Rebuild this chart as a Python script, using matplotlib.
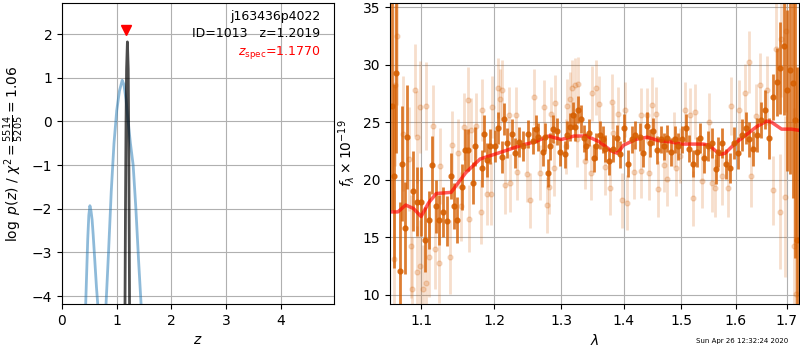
import numpy as np
import matplotlib
matplotlib.use("Agg")
import matplotlib.pyplot as plt
from matplotlib.ticker import FixedLocator, NullLocator, FormatStrFormatter

# p(z) curves
z_coarse = [0.38, 0.43, 0.45, 0.47, 0.49, 0.51, 0.53, 0.55, 0.57, 0.60, 0.63, 0.66, 0.72,
            0.80, 0.85, 0.90, 0.95, 1.00, 1.05, 1.10, 1.13, 1.17, 1.20, 1.25, 1.30, 1.35,
            1.40, 1.45, 1.50]
lnp_coarse = [-6.0, -4.3, -3.5, -2.7, -2.15, -1.93, -2.05, -2.25, -2.6, -3.2, -3.8, -4.3, -5.5,
              -4.3, -3.0, -1.6, -0.5, 0.25, 0.7, 0.94, 0.85, 0.5, 0.1, -0.5, -1.0, -2.0,
              -3.2, -4.3, -5.5]
z_fine = [1.14, 1.15, 1.16, 1.17, 1.18, 1.195, 1.21, 1.22, 1.23, 1.235, 1.245]
lnp_fine = [-5.5, -4.5, -2.0, 0.0, 1.2, 1.82, 1.2, -0.5, -3.0, -4.5, -5.5]
z_best = 1.2019
z_spec = 1.1770

# binned spectrum (dark)
wave_bin = [1.0623, 1.0648, 1.0677, 1.0721, 1.0750, 1.0785, 1.0818, 1.0890, 1.0948, 1.1000,
            1.1045, 1.1101, 1.1145, 1.1191, 1.1243, 1.1287, 1.1344, 1.1400, 1.1445, 1.1480,
            1.1544, 1.1594, 1.1639, 1.1703, 1.1727, 1.1821, 1.1853, 1.1900, 1.1948, 1.2010,
            1.2057, 1.2107, 1.2144, 1.2187, 1.2252, 1.2300, 1.2363, 1.2422, 1.2496, 1.2562,
            1.2611, 1.2646, 1.2712, 1.2747, 1.2797, 1.2823, 1.2874, 1.2930, 1.2980, 1.3050,
            1.3086, 1.3137, 1.3175, 1.3216, 1.3259, 1.3311, 1.3349, 1.3390, 1.3439, 1.3509,
            1.3546, 1.3616, 1.3655, 1.3697, 1.3752, 1.3824, 1.3890, 1.3945, 1.4000, 1.4072,
            1.4140, 1.4195, 1.4275, 1.4332, 1.4389, 1.4446, 1.4503, 1.4573, 1.4631, 1.4690,
            1.4748, 1.4818, 1.4879, 1.4936, 1.5014, 1.5074, 1.5134, 1.5212, 1.5273, 1.5334,
            1.5407, 1.5480, 1.5548, 1.5623, 1.5660, 1.5740, 1.5816, 1.5892, 1.5973, 1.6039,
            1.6121, 1.6198, 1.6262, 1.6340, 1.6405, 1.6491, 1.6575, 1.6654, 1.6733, 1.6808,
            1.6875, 1.6942, 1.7008, 1.7070, 1.7125, 1.7178, 1.7210]
flux_bin = [26.4, 20.3, 29.3, 12.1, 21.4, 15.8, 23.7, 19.0, 18.1, 18.1,
            14.8, 16.5, 21.3, 17.7, 16.5, 17.2, 16.4, 20.3, 17.7, 16.5,
            19.4, 22.6, 22.6, 19.7, 22.9, 21.0, 24.0, 21.7, 22.9, 22.9,
            24.5, 22.0, 25.3, 23.2, 24.0, 22.3, 23.3, 22.9, 24.0, 23.4,
            24.4, 23.7, 22.4, 23.7, 20.6, 22.9, 24.4, 24.2, 22.4, 22.2,
            23.9, 24.6, 25.6, 24.6, 26.1, 25.3, 23.6, 22.9, 24.1, 21.9,
            22.9, 23.9, 23.5, 22.7, 21.6, 22.7, 23.6, 22.2, 24.5, 21.4,
            23.5, 23.9, 23.7, 22.3, 24.7, 23.2, 24.2, 22.6, 23.5, 22.9,
            23.6, 22.4, 23.5, 22.9, 23.5, 24.5, 22.7, 21.4, 22.4, 23.6,
            21.9, 22.9, 23.2, 20.9, 22.4, 23.2, 21.4, 21.0, 23.2, 22.3,
            23.9, 24.5, 23.5, 22.7, 23.9, 25.2, 26.1, 23.6, 27.2, 28.5,
            29.7, 31.6, 27.8, 29.5, 28.4, 25.2, 14.8]
err_bin = [9.0, 8.0, 7.0, 6.0, 5.0, 4.0, 4.5, 3.5, 3.0, 3.0,
           2.8, 2.5, 2.5, 2.3, 2.2, 2.2, 2.2, 2.0, 2.0, 2.0,
           2.0, 1.8, 1.8, 1.8, 1.7, 1.6, 1.6, 1.5, 1.5, 1.4,
           1.4, 1.4, 1.4, 1.3, 1.3, 1.3, 1.3, 1.3, 1.2, 1.2,
           1.2, 1.2, 1.2, 1.2, 1.2, 1.2, 1.2, 1.2, 1.2, 1.2,
           1.2, 1.2, 1.2, 1.2, 1.2, 1.2, 1.2, 1.2, 1.2, 1.2,
           1.2, 1.2, 1.2, 1.2, 1.2, 1.2, 1.2, 1.2, 1.2, 1.2,
           1.2, 1.2, 1.2, 1.2, 1.2, 1.2, 1.2, 1.2, 1.2, 1.2,
           1.2, 1.2, 1.2, 1.2, 1.2, 1.2, 1.2, 1.2, 1.3, 1.3,
           1.3, 1.3, 1.3, 1.3, 1.3, 1.3, 1.3, 1.3, 1.4, 1.4,
           1.4, 1.4, 1.5, 1.5, 1.5, 1.6, 1.7, 1.8, 2.0, 3.0,
           4.0, 6.0, 7.0, 9.0, 10.0, 12.0, 15.0]

# unbinned spectrum (light)
wave_raw = [1.0650, 1.0660, 1.0690, 1.0760, 1.0840, 1.0870, 1.0880, 1.0920, 1.0940, 1.0950,
            1.0990, 1.0985, 1.1030, 1.1060, 1.1070, 1.1110, 1.1160, 1.1180, 1.1240, 1.1250,
            1.1390, 1.1410, 1.1500, 1.1540, 1.1570, 1.1630, 1.1645, 1.1680, 1.1740, 1.1810,
            1.1830, 1.1900, 1.1950, 1.1970, 1.2057, 1.2090, 1.2110, 1.2160, 1.2220, 1.2235,
            1.2310, 1.2330, 1.2480, 1.2530, 1.2580, 1.2670, 1.2730, 1.2773, 1.2810, 1.2840,
            1.2880, 1.2900, 1.3070, 1.3086, 1.3130, 1.3160, 1.3216, 1.3240, 1.3260, 1.3370,
            1.3470, 1.3490, 1.3550, 1.3600, 1.3700, 1.3770, 1.3810, 1.3830, 1.3900, 1.3970,
            1.4030, 1.4050, 1.4170, 1.4290, 1.4300, 1.4400, 1.4430, 1.4490, 1.4550, 1.4580,
            1.4690, 1.4750, 1.4870, 1.4900, 1.4980, 1.5070, 1.5150, 1.5210, 1.5250, 1.5380,
            1.5500, 1.5550, 1.5620, 1.5750, 1.5860, 1.5910, 1.6060, 1.6170, 1.6250, 1.6300,
            1.6400, 1.6470, 1.6600, 1.6720, 1.6790, 1.6875, 1.6890, 1.6970, 1.6990, 1.7160,
            1.7190]
flux_raw = [13.1, 28.2, 32.5, 24.0, 21.8, 14.2, 10.5, 27.8, 12.0, 23.7,
            26.3, 12.5, 10.5, 11.0, 26.4, 13.3, 24.7, 14.0, 12.8, 21.2,
            13.3, 23.0, 22.3, 17.7, 24.6, 26.9, 16.6, 24.3, 24.7, 17.2,
            26.1, 18.8, 18.8, 26.3, 28.0, 27.0, 27.8, 19.5, 25.6, 19.7,
            25.6, 20.7, 20.5, 18.2, 27.2, 20.6, 26.3, 17.8, 19.4, 25.7,
            21.0, 26.7, 22.9, 26.4, 27.0, 28.0, 28.2, 23.5, 28.3, 21.6,
            20.6, 27.5, 28.0, 26.6, 21.1, 19.3, 26.8, 24.1, 25.7, 18.2,
            26.1, 18.0, 20.7, 20.8, 25.6, 25.6, 20.6, 26.5, 25.7, 19.2,
            21.3, 20.1, 23.5, 21.0, 22.1, 26.1, 25.6, 18.4, 25.9, 19.9,
            25.0, 19.7, 19.3, 20.3, 19.3, 26.4, 26.1, 27.5, 30.2, 20.3,
            25.5, 28.2, 27.8, 19.1, 31.4, 17.2, 32.2, 18.5, 32.9, 14.2,
            10.1]
err_raw = [6.0, 7.0, 6.0, 5.0, 4.5, 4.5, 4.5, 4.0, 4.0, 4.0,
           4.0, 4.0, 3.8, 3.8, 3.8, 3.5, 3.5, 3.5, 3.5, 3.3,
           3.2, 3.0, 3.0, 3.0, 2.9, 2.9, 2.9, 2.8, 2.8, 2.8,
           2.7, 2.7, 2.7, 2.7, 2.6, 2.6, 2.6, 2.5, 2.5, 2.5,
           2.5, 2.5, 2.4, 2.4, 2.4, 2.4, 2.4, 2.4, 2.4, 2.4,
           2.4, 2.4, 2.4, 2.4, 2.4, 2.4, 2.4, 2.4, 2.4, 2.4,
           2.4, 2.4, 2.4, 2.4, 2.4, 2.4, 2.4, 2.4, 2.4, 2.4,
           2.4, 2.4, 2.4, 2.4, 2.4, 2.4, 2.4, 2.4, 2.4, 2.4,
           2.4, 2.4, 2.4, 2.4, 2.4, 2.4, 2.4, 2.4, 2.4, 2.4,
           2.5, 2.5, 2.5, 2.5, 2.5, 2.5, 2.6, 2.6, 2.7, 2.7,
           2.8, 2.8, 3.0, 3.0, 4.0, 5.0, 5.0, 7.0, 7.0, 12.0,
           14.0]

# best-fit model
wave_model = [1.060, 1.070, 1.080, 1.090, 1.100, 1.110, 1.120, 1.140, 1.160, 1.180,
              1.200, 1.220, 1.240, 1.260, 1.280, 1.300, 1.320, 1.340, 1.360, 1.380,
              1.390, 1.400, 1.420, 1.440, 1.460, 1.480, 1.500, 1.520, 1.540, 1.550,
              1.570, 1.580, 1.600, 1.620, 1.640, 1.660, 1.670, 1.690, 1.710, 1.725]
flux_model = [17.2, 17.2, 17.8, 17.5, 16.8, 18.0, 18.8, 18.9, 20.6, 21.8,
              22.2, 22.6, 23.0, 23.3, 23.8, 23.5, 23.8, 23.8, 23.3, 22.5,
              22.3, 23.0, 23.5, 23.7, 23.4, 23.3, 23.1, 23.1, 23.1, 23.0,
              22.2, 22.3, 23.2, 23.9, 24.6, 25.1, 25.0, 24.4, 24.4, 24.3]

g141 = (0.835, 0.369, 0.0)

fig = plt.figure(figsize=(8, 3.5), dpi=100)

# --- p(z) panel
ax = fig.add_axes([0.0775, 0.1314, 0.34, 0.86])
ax.plot(z_coarse, lnp_coarse, color='C0', alpha=0.5, lw=2)
ax.plot(z_fine, lnp_fine, color='k', alpha=0.7, lw=2)
ax.plot(z_spec, 2.1, marker='v', color='red', markersize=7, linestyle='None')
ax.set_xlim(0, 4.97)
ax.set_ylim(-4.18, 2.71)
ax.set_xlabel('$z$')
ax.set_ylabel(r'$\log\ p(z)$ / $\chi^2=\frac{5514}{5205}=1.06$')
ax.grid()
ax.text(0.95, 0.955, 'j163436p4022', transform=ax.transAxes, ha='right', va='center', fontsize=9)
ax.text(0.95, 0.90, 'ID=1013   z=%.4f' % z_best, transform=ax.transAxes, ha='right', va='center', fontsize=9)
ax.text(0.95, 0.835, r'$z_\mathrm{spec}$=%.4f' % z_spec, transform=ax.transAxes, ha='right', va='center',
        fontsize=9, color='red')

# --- spectrum panel
ax2 = fig.add_axes([0.4875, 0.1314, 0.511, 0.86])
ax2.errorbar(wave_raw, flux_raw, err_raw, marker='o', ms=3.5, linestyle='None', color=g141,
             alpha=0.2, elinewidth=2)
ax2.errorbar(wave_bin, flux_bin, err_bin, marker='o', ms=3.5, linestyle='None', color=g141,
             alpha=0.8, elinewidth=2)
ax2.plot(wave_model, flux_model, color='red', alpha=0.65, lw=2.5)
ax2.set_xscale('log')
ax2.set_xlim(1.060, 1.725)
ax2.set_ylim(9.19, 35.37)
ax2.xaxis.set_major_locator(FixedLocator([1.1, 1.2, 1.3, 1.4, 1.5, 1.6, 1.7]))
ax2.xaxis.set_major_formatter(FormatStrFormatter('%.1f'))
ax2.xaxis.set_minor_locator(NullLocator())
ax2.set_xlabel(r'$\lambda$')
ax2.set_ylabel(r'$f_\lambda\times10^{-19}$')
ax2.grid()

fig.text(0.985, 0.025, 'Sun Apr 26 12:32:24 2020', ha='right', va='center', fontsize=5)

fig.savefig('out.png', dpi=100)
